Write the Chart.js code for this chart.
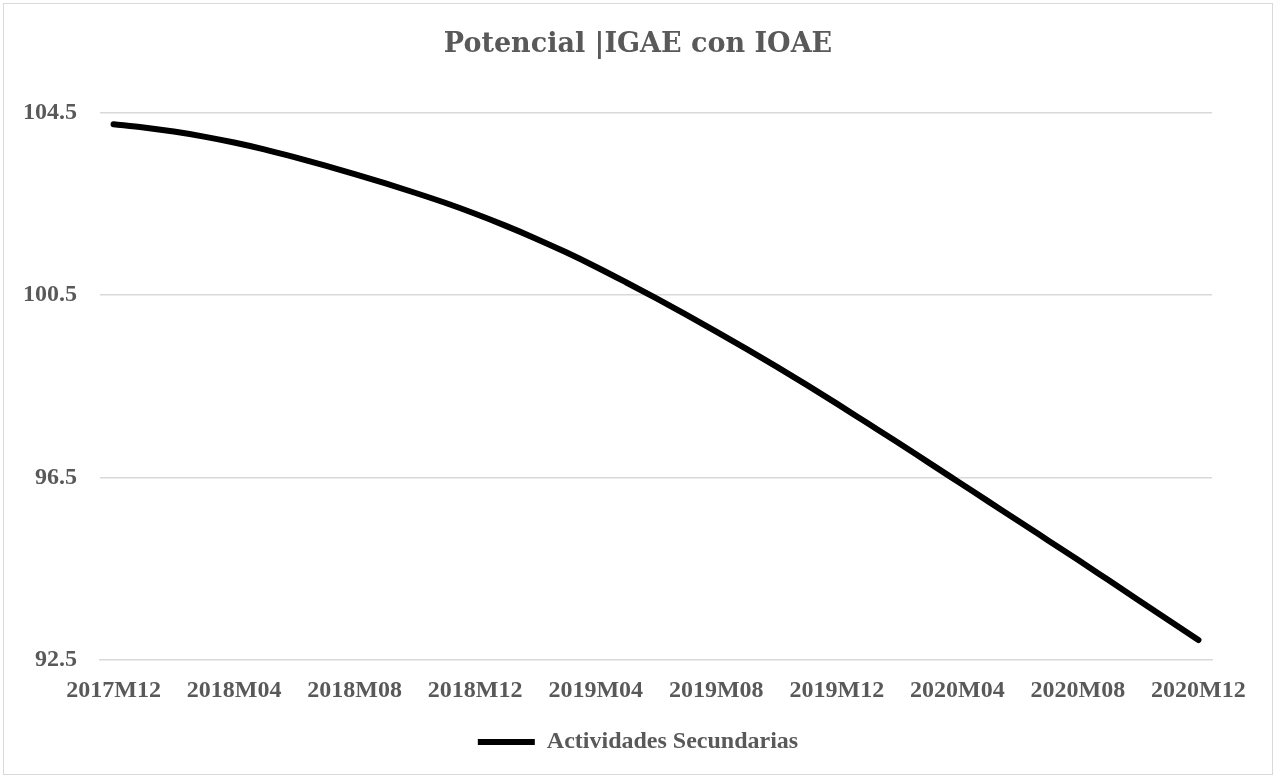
<!DOCTYPE html>
<html>
<head>
<meta charset="utf-8">
<title>Potencial | IGAE con IOAE</title>
<script src="https://cdn.jsdelivr.net/npm/chart.js@4.4.0/dist/chart.umd.min.js"></script>
<style>
    html, body { margin: 0; padding: 0; background: #ffffff; }
    #wrap { width: 1276px; height: 778px; }
</style>
</head>
<body>
<div id="wrap"><canvas id="potencialChart" width="1276" height="778"></canvas></div>
<script>
// monthly periods, 2017M12 .. 2020M12
var categories = [
    '2017M12',
    '2018M01','2018M02','2018M03','2018M04','2018M05','2018M06',
    '2018M07','2018M08','2018M09','2018M10','2018M11','2018M12',
    '2019M01','2019M02','2019M03','2019M04','2019M05','2019M06',
    '2019M07','2019M08','2019M09','2019M10','2019M11','2019M12',
    '2020M01','2020M02','2020M03','2020M04','2020M05','2020M06',
    '2020M07','2020M08','2020M09','2020M10','2020M11','2020M12'
];

// Actividades Secundarias
var secundarias = [
    104.24,
    104.17, 104.08, 103.97, 103.84, 103.69, 103.52,
    103.34, 103.15, 102.95, 102.74, 102.52, 102.28,
    102.02, 101.74, 101.44, 101.12, 100.78, 100.43,
    100.07, 99.70, 99.32, 98.93, 98.53, 98.12,
    97.70, 97.28, 96.85, 96.42, 95.99, 95.56,
    95.13, 94.70, 94.26, 93.82, 93.38, 92.94
];

var xTickLabels = ['2017M12','2018M04','2018M08','2018M12','2019M04','2019M08','2019M12','2020M04','2020M08','2020M12'];
var yTicks = [92.5, 96.5, 100.5, 104.5];

var textGrey = '#595959';
var gridGrey = '#d9d9d9';
var serif = "'Liberation Serif', 'Times New Roman', serif";

// white background + thin frame round the whole chart
var frame = {
    id: 'frame',
    beforeDraw: function(chart) {
        var c = chart.ctx;
        c.save();
        c.fillStyle = '#ffffff';
        c.fillRect(0, 0, chart.width, chart.height);
        c.strokeStyle = gridGrey;
        c.lineWidth = 1;
        c.strokeRect(3.5, 3.5, chart.width - 7, chart.height - 7);
        c.restore();
    }
};

var points = secundarias.map(function(v, i) { return { x: i, y: v }; });

new Chart(document.getElementById('potencialChart'), {
    type: 'line',
    data: {
        datasets: [{
            label: 'Actividades Secundarias',
            data: points,
            borderColor: '#000000',
            backgroundColor: '#000000',
            borderWidth: 6,
            borderCapStyle: 'round',
            borderJoinStyle: 'round',
            pointRadius: 0,
            pointHoverRadius: 0,
            cubicInterpolationMode: 'monotone',
            fill: false
        }]
    },
    options: {
        responsive: false,
        animation: false,
        layout: { padding: { left: 23, right: 23, top: 0, bottom: 14 } },
        scales: {
            x: {
                type: 'linear',
                min: -0.45,
                max: categories.length - 1 + 0.45,
                afterBuildTicks: function(scale) {
                    scale.ticks = xTickLabels.map(function(lbl) {
                        return { value: categories.indexOf(lbl) };
                    });
                },
                ticks: {
                    autoSkip: false,
                    maxRotation: 0,
                    padding: 16,
                    color: textGrey,
                    font: { family: serif, size: 24, weight: 'bold' },
                    callback: function(value) { return categories[value]; }
                },
                grid: { display: false, drawTicks: false },
                border: { display: true, color: gridGrey, width: 1.5, dash: [8, 5] }
            },
            y: {
                min: yTicks[0],
                max: yTicks[yTicks.length - 1],
                afterBuildTicks: function(scale) {
                    scale.ticks = yTicks.map(function(v) { return { value: v }; });
                },
                afterFit: function(scale) { scale.width = 77; },
                ticks: {
                    padding: 23,
                    color: textGrey,
                    font: { family: serif, size: 24, weight: 'bold' },
                    callback: function(value) { return value.toFixed(1); }
                },
                grid: {
                    drawTicks: false,
                    color: gridGrey,
                    lineWidth: function(ctx) {
                        // the bottom line is drawn dashed by the x border
                        return ctx.tick && ctx.tick.value === yTicks[0] ? 0 : 1.5;
                    }
                },
                border: { display: false }
            },
            // empty right axis, only keeps the plot narrower on the right
            yRight: {
                position: 'right',
                min: yTicks[0],
                max: yTicks[yTicks.length - 1],
                afterFit: function(scale) { scale.width = 41; },
                ticks: { display: false },
                grid: { drawOnChartArea: false, drawTicks: false },
                border: { display: false }
            }
        },
        plugins: {
            title: {
                display: true,
                text: 'Potencial |IGAE con IOAE',
                color: textGrey,
                font: { family: "'DejaVu Serif', serif", size: 27, weight: 'bold' },
                padding: { top: 29, bottom: 51 }
            },
            legend: {
                display: true,
                position: 'bottom',
                labels: {
                    usePointStyle: true,
                    pointStyle: 'line',
                    pointStyleWidth: 57,
                    padding: 9,
                    color: textGrey,
                    font: { family: serif, size: 24, weight: 'bold' }
                }
            },
            tooltip: { enabled: false }
        }
    },
    plugins: [frame]
});
</script>
</body>
</html>
